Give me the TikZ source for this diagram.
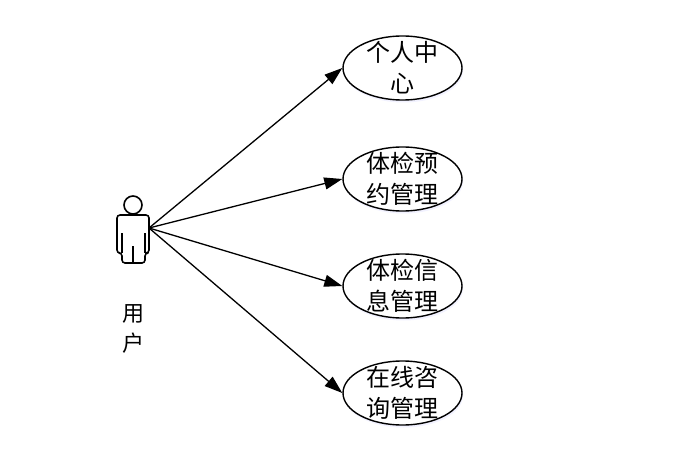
\documentclass[tikz,border=0pt]{standalone}
\usepackage{fontspec}
\newfontfamily\cjk{Noto Sans CJK SC}
\usetikzlibrary{arrows.meta,shapes,shadows}
\tikzset{
    usecase/.style={ellipse, draw, line width=1.4pt, fill=white, align=center,
        minimum width=119pt, minimum height=64pt, inner xsep=0pt, inner ysep=-6pt,
        font=\cjk\fontsize{24}{31}\selectfont,
        drop shadow={shadow xshift=1pt, shadow yshift=-2.5pt, fill=blue!10}},
    actor/.style={line width=1.6pt, line join=round},
    assoc/.style={-{Triangle[length=18pt,width=12pt]}, line width=1.3pt}
}
\begin{document}
\begin{tikzpicture}[x=1pt,y=-1pt]
    \useasboundingbox (0,0) rectangle (695,449);
    % actor
    \begin{scope}[actor]
        \draw (133,205) circle (9);
        \draw[rounded corners=3pt] (122,263) -- (122,253) -- (117,253) -- (117,215)
            -- (149,215) -- (149,253) -- (145,253) -- (145,263) -- cycle;
        \draw (122,233) -- (122,253) (145,233) -- (145,253) (133,246) -- (133,263);
    \end{scope}
    \coordinate (user) at (149,228);
    \node[font=\cjk\fontsize{22}{30}\selectfont, align=center] (userlabel) at (133,329) {用\\户};
    % use cases
    \node[usecase] (center) at (402.5,68) {个人中\\心};
    \node[usecase] (booking) at (402.5,179) {体检预\\约管理};
    \node[usecase] (info) at (402.5,286) {体检信\\息管理};
    \node[usecase] (consult) at (402.5,393) {在线咨\\询管理};
    % associations
    \draw[assoc] (user) -- (center.west);
    \draw[assoc] (user) -- (booking.west);
    \draw[assoc] (user) -- (info.west);
    \draw[assoc] (user) -- (consult.west);
\end{tikzpicture}
\end{document}
